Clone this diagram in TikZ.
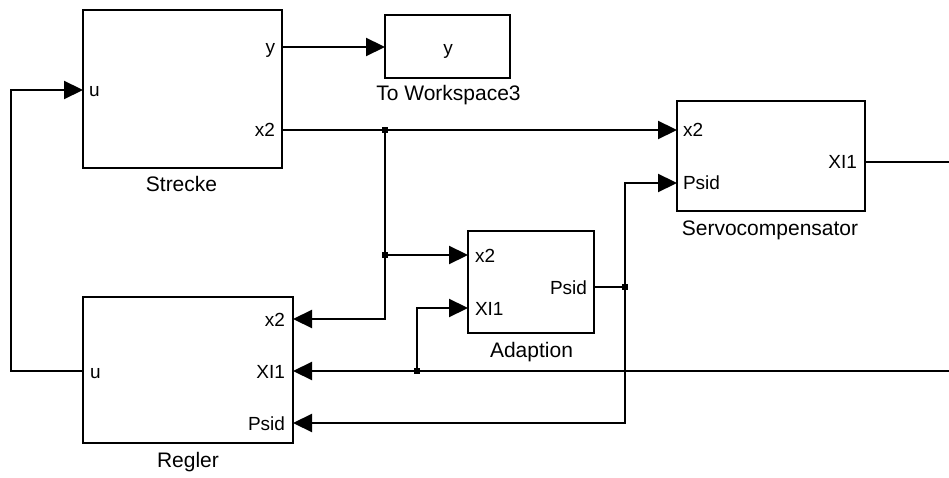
\documentclass[tikz,border=0pt]{standalone}
\usepackage{fontspec}
\setmainfont{Liberation Sans}
\usetikzlibrary{arrows.meta}
\begin{document}
\begin{tikzpicture}[x=1pt,y=-1pt,
  blk/.style={draw, line width=2.2pt, inner sep=0pt, outer sep=0pt},
  wire/.style={line width=2.2pt},
  arr/.style={wire, -{Triangle[length=19pt,width=18pt]}},
  txt/.style={font=\fontsize{19}{22}\selectfont, inner sep=0pt, outer sep=0pt},
  nametxt/.style={font=\fontsize{21}{24}\selectfont, inner sep=0pt, outer sep=0pt},
  jdot/.style={fill, minimum size=6pt, inner sep=0pt, outer sep=0pt},
]
\useasboundingbox (0,0) rectangle (949,478);
% blocks
\node[blk, minimum width=199pt, minimum height=158pt] (strecke) at (182.5,89) {};
\node[blk, minimum width=125pt, minimum height=63pt] (ws) at (447.5,46.5) {};
\node[blk, minimum width=188pt, minimum height=110pt] (servo) at (771,156) {};
\node[blk, minimum width=126pt, minimum height=102pt] (adapt) at (531,282) {};
\node[blk, minimum width=210pt, minimum height=146pt] (regler) at (188,370) {};
% block names
\node[nametxt, anchor=base] (nstrecke) at (181.5,192) {Strecke};
\node[nametxt, anchor=base] (nws) at (448.5,101) {To Workspace3};
\node[nametxt, anchor=base] (nservo) at (770,236) {Servocompensator};
\node[nametxt, anchor=base] (nadapt) at (531.5,357) {Adaption};
\node[nametxt, anchor=base] (nregler) at (188,467) {Regler};
% port labels
\node[txt, anchor=base west] (lsu) at (89,97) {u};
\node[txt, anchor=base east] (lsy) at (275,54) {y};
\node[txt, anchor=base east] (lsx2) at (275,137) {x2};
\node[txt, anchor=base] (lwsy) at (448,55) {y};
\node[txt, anchor=base west] (lvx2) at (683,137) {x2};
\node[txt, anchor=base west] (lvpsid) at (683,190) {Psid};
\node[txt, anchor=base east] (lvxi) at (857,169) {XI1};
\node[txt, anchor=base west] (lax2) at (475,262) {x2};
\node[txt, anchor=base west] (laxi) at (475,315) {XI1};
\node[txt, anchor=base east] (lapsid) at (587,294) {Psid};
\node[txt, anchor=base east] (lrx2) at (285,326) {x2};
\node[txt, anchor=base east] (lrxi) at (285,378) {XI1};
\node[txt, anchor=base east] (lrpsid) at (285,430) {Psid};
\node[txt, anchor=base west] (lru) at (90,378) {u};
% port coordinates
\coordinate (su) at (83,90);
\coordinate (sy) at (282,47);
\coordinate (sx2) at (282,130);
\coordinate (wsin) at (385,47);
\coordinate (vx2) at (677,130);
\coordinate (vpsid) at (677,183);
\coordinate (vxi) at (865,162);
\coordinate (ax2) at (468,255);
\coordinate (axi) at (468,308);
\coordinate (apsid) at (594,287);
\coordinate (rx2) at (293,319);
\coordinate (rxi) at (293,371);
\coordinate (rpsid) at (293,423);
\coordinate (ru) at (83,371);
\coordinate (j1) at (385,130);
\coordinate (j2) at (385,255);
\coordinate (j3) at (625,287);
\coordinate (j4) at (417,371);
\coordinate (e1) at (949,162);
\coordinate (e2) at (949,371);
\coordinate (fb1) at (11,371);
\coordinate (fb2) at (11,90);
% connectors
\draw[arr] (sy) -- (wsin);
\draw[arr] (sx2) -- (vx2);
\draw[arr] (j1) |- (rx2);
\draw[arr] (j2) -- (ax2);
\draw[wire] (apsid) -- (j3);
\draw[arr] (j3) |- (vpsid);
\draw[arr] (j3) |- (rpsid);
\draw[wire] (vxi) -- (e1);
\draw[arr] (e2) -- (rxi);
\draw[arr] (j4) |- (axi);
\draw[arr] (ru) -- (fb1) -- (fb2) -- (su);
% junction dots
\node[jdot] (d1) at (j1) {};
\node[jdot] (d2) at (j2) {};
\node[jdot] (d3) at (j3) {};
\node[jdot] (d4) at (j4) {};
\end{tikzpicture}
\end{document}
